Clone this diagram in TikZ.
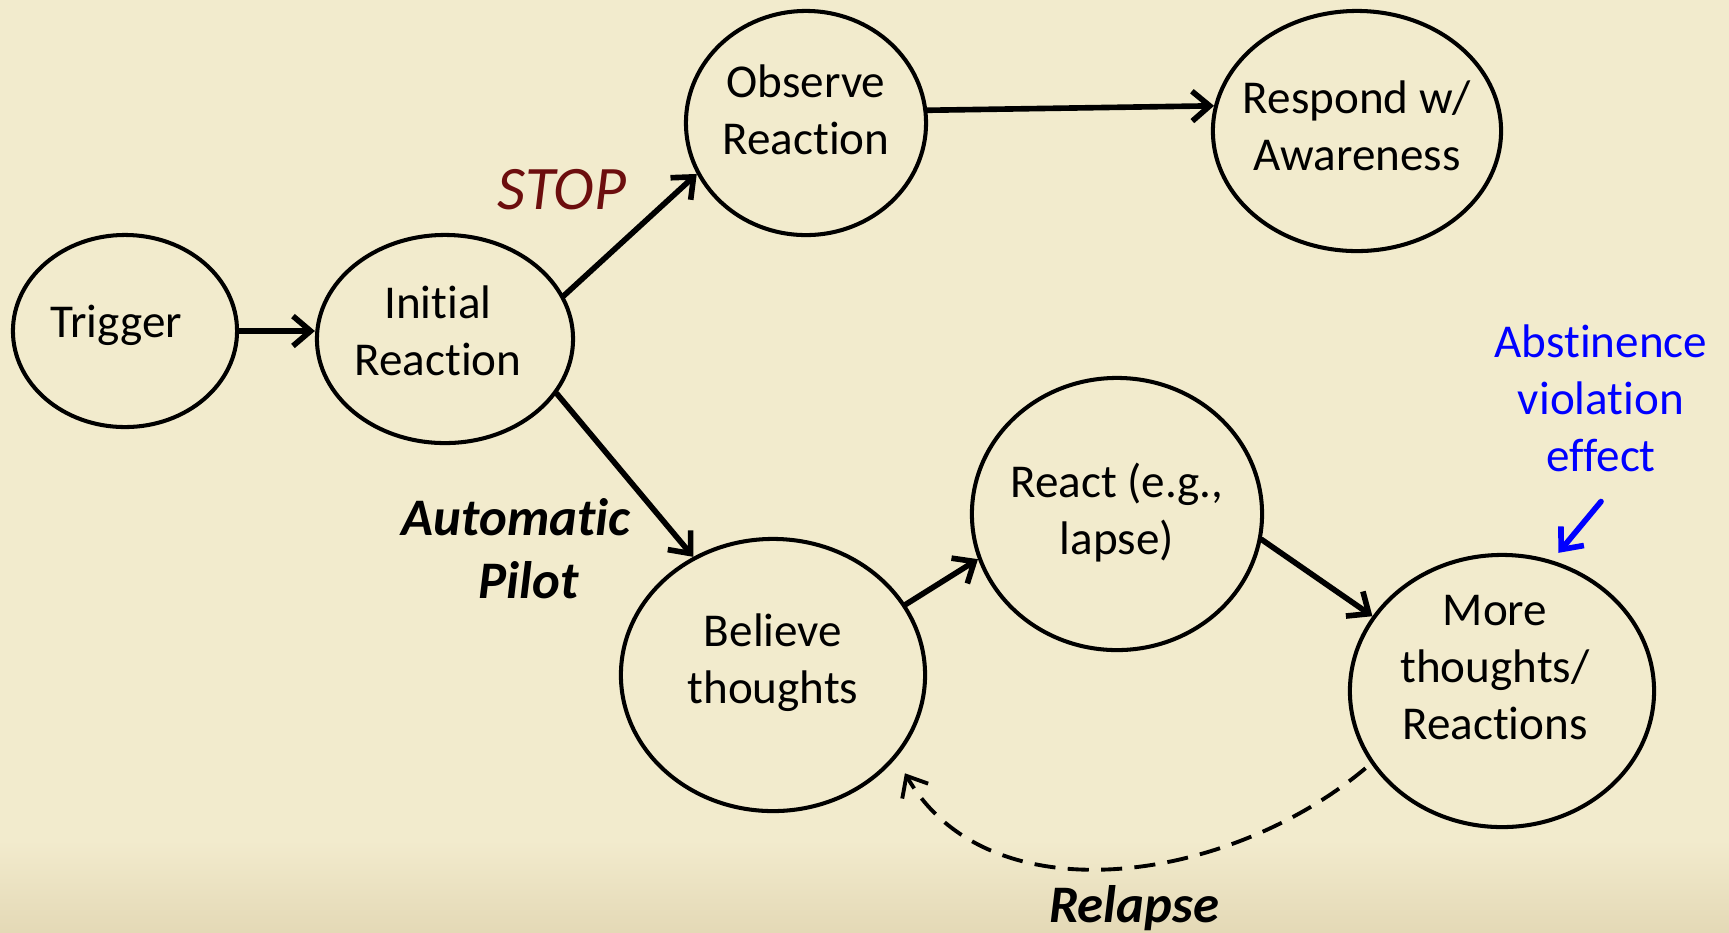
\documentclass[tikz,border=0pt]{standalone}
\usepackage{fontspec}
\setmainfont[Ligatures={NoCommon,NoRare}]{Carlito}
\usetikzlibrary{shapes.geometric,arrows.meta}
\definecolor{paper}{RGB}{242,235,205}
\definecolor{paperdark}{RGB}{228,217,182}
\definecolor{stopred}{RGB}{108,14,14}
\definecolor{notecol}{RGB}{0,0,255}

\begin{document}
\begin{tikzpicture}[x=0.01cm,y=-0.01cm,
    state/.style={ellipse,draw,line width=1.15pt,inner sep=0pt},
    txt/.style={align=center,font=\fontsize{13.4}{16.2}\selectfont,yshift=1pt},
    flow/.style={line width=1.6pt,line cap=round,-{Straight Barb[length=5pt,width=8.5pt]}},
    cue/.style={align=center,font=\fontsize{15}{18}\selectfont\bfseries\itshape}]
    \useasboundingbox (0,0) rectangle (1729,932);
    \fill [paper] (0,0) rectangle (1729,932);
    \shade [top color=paper,bottom color=paperdark] (0,840) rectangle (1729,932);
    \path ( 125, 331) node [state,minimum width=2.24cm,minimum height=1.92cm,label={[txt,xshift=-2.5pt,yshift=0.6pt]center:Trigger}] (trigger) {};
    \path ( 445, 339) node [state,minimum width=2.56cm,minimum height=2.08cm,label={[txt,xshift=-2pt,yshift=1.25pt]center:Initial\\Reaction}] (initial) {};
    \path ( 806, 123) node [state,minimum width=2.40cm,minimum height=2.24cm,label={[txt,yshift=2.8pt]center:Observe\\Reaction}] (observe) {};
    \path (1357, 131) node [state,minimum width=2.88cm,minimum height=2.40cm,label={[txt,yshift=0.5pt]center:Respond w/\\Awareness}] (respond) {};
    \path ( 773, 675) node [state,minimum width=3.04cm,minimum height=2.72cm,label={[txt,yshift=2.4pt]center:Believe\\thoughts}] (believe) {};
    \path (1117, 514) node [state,minimum width=2.90cm,minimum height=2.72cm,label={[txt,yshift=-0.5pt]center:React (e.g.,\\lapse)}] (react) {};
    \path (1502, 691) node [state,minimum width=3.04cm,minimum height=2.72cm,label={[txt,yshift=5.7pt,xshift=-2pt]center:More\\thoughts/\\Reactions}] (more) {};
    \path ( 562, 190) node [font=\fontsize{17.6}{21}\selectfont\itshape,text=stopred] (stop) {STOP};
    \path ( 516, 549) node [cue] (pilot) {Automatic\\\hspace*{7pt}Pilot};
    \path (1134, 908) node [cue] (relapse) {Relapse};
    \path (1601, 402) node [txt,text=notecol,inner ysep=8.2pt] (abstinence) {Abstinence\\violation\\effect};
    \draw [flow] (trigger.east) -- (trigger.east -| initial.west);
    \draw [flow] (initial.20) -- (observe.205);
    \draw [flow] (observe.6) -- (respond.170);
    \draw [flow] (initial.-26) -- (believe.124);
    \draw [flow] (believe.28) -- (react.198);
    \draw [flow] (react.-10) -- (more.150);
    \draw [flow,line width=1.1pt,line cap=butt,dash pattern=on 6pt off 3.5pt,shorten <=2pt,shorten >=5pt] (more.209) to [out=220,in=-60] (believe.-34);
    \draw [flow,notecol,shorten >=2.8pt] (abstinence.south) -- (more.69);
\end{tikzpicture}
\end{document}
